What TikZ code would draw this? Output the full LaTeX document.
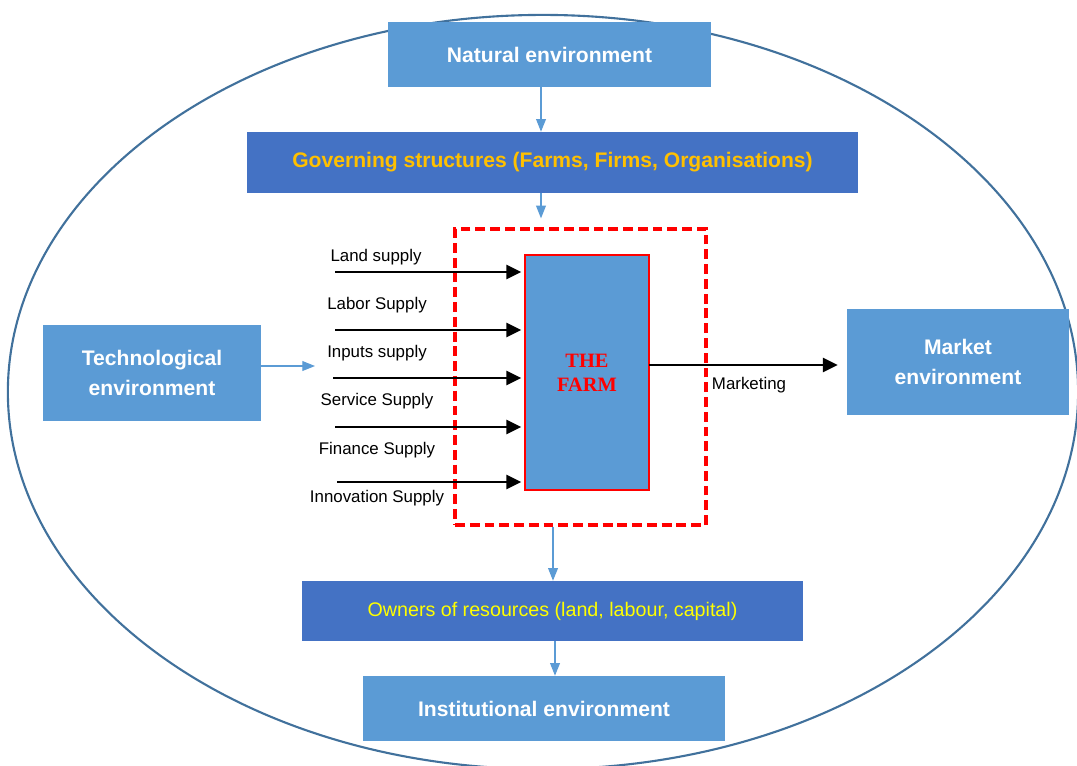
\documentclass[tikz,border=0pt]{standalone}
\usepackage{fontspec}
\setmainfont{Liberation Sans}
\newfontfamily\farmfont{Liberation Serif}
\usetikzlibrary{arrows.meta,calc}

\definecolor{envblue}{HTML}{5B9BD5}
\definecolor{govblue}{HTML}{4472C4}
\definecolor{ringblue}{HTML}{41719C}
\definecolor{govtext}{HTML}{FFC000}
\definecolor{owntext}{HTML}{FFFF00}

\def\px{0.025cm}

\tikzset{
	envbox/.style={fill=envblue, text=white, inner sep=0pt, align=center,
		font=\fontsize{15}{21}\selectfont\bfseries},
	govbox/.style={fill=govblue, inner sep=0pt, align=center},
	supply/.style={line width=1.5pt, -{Triangle[length=10.5pt,width=10pt]}, shorten >=2pt},
	flow/.style={envblue, line width=0.8pt, -{Triangle[length=9pt,width=7pt]}},
	supplylabel/.style={font=\fontsize{12}{14}\selectfont, inner sep=0pt}
}

\begin{document}
\begin{tikzpicture}[x=0.025cm, y=-0.025cm]
	%%%%% START %%%%%
	\useasboundingbox (0,0) rectangle (1077,765);
	
	\draw[ringblue, line width=1.5pt] (543,392) ellipse [x radius=13.375cm, y radius=9.425cm];
	
	\node[envbox, minimum width=323*\px, minimum height=65*\px] (natural) at (549.5,54.5) {Natural environment};
	\node[govbox, minimum width=611*\px, minimum height=61*\px, text=govtext, font=\fontsize{15}{18}\selectfont\bfseries] (governing) at (552.5,162.5) {Governing structures (Farms, Firms, Organisations)};
	
	\node[draw=red, dash pattern=on 7pt off 3.5pt, line width=2.4pt, minimum width=251*\px, minimum height=296*\px] (frame) at (580.5,377) {};
	\node[fill=envblue, draw=red, line width=1.4pt, minimum width=124*\px, minimum height=235*\px, align=center, text=red, font=\farmfont\fontsize{14.5}{17}\selectfont\bfseries] (farm) at (587,372.5) {THE\\FARM};
	
	\node[envbox, minimum width=218*\px, minimum height=96*\px] (tech) at (152,373) {Technological\\environment};
	\node[envbox, minimum width=222*\px, minimum height=106*\px] (market) at (958,362) {Market\\environment};
	
	\node[govbox, minimum width=501*\px, minimum height=60*\px, text=owntext, font=\fontsize{14}{17}\selectfont] (owners) at (552.5,611) {Owners of resources (land, labour, capital)};
	\node[envbox, minimum width=362*\px, minimum height=65*\px] (institutional) at (544,708.5) {Institutional environment};
	
	% vertical links
	\coordinate (topaxis) at (541,0);
	\coordinate (lowaxis) at (553,0);
	\coordinate (baseaxis) at (555,0);
	\draw[flow] (natural.south -| topaxis) -- (governing.north -| topaxis);
	\draw[flow, shorten >=6.4pt] (governing.south -| topaxis) -- (frame.north -| topaxis);
	\draw[flow] (frame.south -| lowaxis) -- (owners.north -| lowaxis);
	\draw[flow] (owners.south -| baseaxis) -- (institutional.north -| baseaxis);
	
	\coordinate (techend) at (315,366);
	\draw[flow] (tech.east |- techend) -- (techend);
	
	% supplies into the farm
	\coordinate (land) at (335,272);
	\coordinate (labor) at (335,330);
	\coordinate (inputs) at (333,378);
	\coordinate (service) at (335,427);
	\coordinate (finance) at (337,482);
	
	\node[supplylabel] (landtxt) at (376,257) {Land supply};
	\node[supplylabel] (labortxt) at (377,305) {Labor Supply};
	\node[supplylabel] (inputstxt) at (377,353) {Inputs supply};
	\node[supplylabel] (servicetxt) at (377,401) {Service Supply};
	\node[supplylabel] (financetxt) at (377,450) {Finance Supply};
	\node[supplylabel] (innovationtxt) at (377,498) {Innovation Supply};
	
	\draw[supply] (land) -- (farm.west |- land);
	\draw[supply] (labor) -- (farm.west |- labor);
	\draw[supply] (inputs) -- (farm.west |- inputs);
	\draw[supply] (service) -- (farm.west |- service);
	\draw[supply] (finance) -- (farm.west |- finance);
	
	% marketing out of the farm
	\coordinate (sale) at (649,365);
	\draw[supply, shorten >=6.4pt] (sale) -- (market.west |- sale);
	\node[supplylabel] (marketingtxt) at (749,385) {Marketing};
	%%%%% END %%%%%
\end{tikzpicture}
\end{document}
